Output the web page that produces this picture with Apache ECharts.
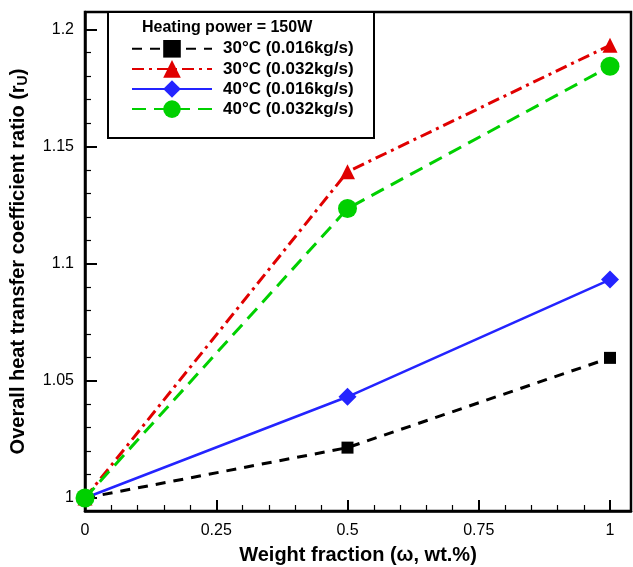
<!DOCTYPE html>
<html><head><meta charset="utf-8">
<script src="https://cdn.jsdelivr.net/npm/echarts@6/dist/echarts.min.js"></script>
<style>html,body{margin:0;padding:0;background:#fff}#c{width:633px;height:567px}</style>
</head><body><div id="c"></div>
<script>
const xValues = [0, 0.5, 1];
const s30_016 = [1.0, 1.0215, 1.0598];
const s30_032 = [1.0, 1.1392, 1.1932];
const s40_016 = [1.0, 1.0432, 1.0932];
const s40_032 = [1.0, 1.1235, 1.1842];
const seriesNames = ['30\u00B0C (0.016kg/s)', '30\u00B0C (0.032kg/s)', '40\u00B0C (0.016kg/s)', '40\u00B0C (0.032kg/s)'];
const xMajor = [0, 0.25, 0.5, 0.75, 1];
const xMajorLabels = ['0', '0.25', '0.5', '0.75', '1'];
const yMajor = [1, 1.05, 1.1, 1.15, 1.2];
const yMajorLabels = ['1', '1.05', '1.1', '1.15', '1.2'];
const xMinor = [0.05,0.1,0.15,0.2,0.3,0.35,0.4,0.45,0.55,0.6,0.65,0.7,0.8,0.85,0.9,0.95];
const yMinor = [1.01,1.02,1.03,1.04,1.06,1.07,1.08,1.09,1.11,1.12,1.13,1.14,1.16,1.17,1.18,1.19];
const legendTitle = 'Heating power = 150W';
const xTitle = 'Weight fraction (\u03C9, wt.%)';

const X_MIN = 0, X_MAX = 1.04, Y_MIN = 0.99446, Y_MAX = 1.20738;
const font = 'Liberation Sans, Arial, sans-serif';

function pairs(ys){ return xValues.map((x,i)=>[x, ys[i]]); }
const xLab = v => { const i = xMajor.findIndex(m => Math.abs(m - v) < 1e-9); return i >= 0 ? xMajorLabels[i] : ''; };
const yLab = v => { const i = yMajor.findIndex(m => Math.abs(m - v) < 1e-9); return i >= 0 ? yMajorLabels[i] : ''; };

const chart = echarts.init(document.getElementById('c'), null, {renderer: 'canvas'});
chart.setOption({
  animation: false,
  backgroundColor: '#fff',
  grid: {left: 85, right: 2, top: 12, bottom: 56, show: true, borderColor: '#000', borderWidth: 2.5,
         backgroundColor: 'transparent', outerBoundsMode: 'none', containLabel: false},
  xAxis: [
    {type: 'value', min: X_MIN, max: X_MAX, position: 'bottom',
     axisLine: {show: true, onZero: false, lineStyle: {color: '#000', width: 2.5}},
     axisTick: {show: true, inside: true, length: 11, customValues: xMajor, lineStyle: {color: '#000', width: 2}},
     axisLabel: {show: true, customValues: xMajor, formatter: xLab, color: '#000', fontSize: 16, fontFamily: font, margin: 12},
     splitLine: {show: false},
     name: xTitle, nameLocation: 'middle', nameGap: 34,
     nameTextStyle: {color: '#000', fontSize: 20, fontWeight: 'bold', fontFamily: font}},
    {type: 'value', min: X_MIN, max: X_MAX, position: 'bottom',
     axisLine: {show: false},
     axisTick: {show: true, inside: true, length: 6, customValues: xMinor, lineStyle: {color: '#000', width: 1.2}},
     axisLabel: {show: false}, splitLine: {show: false}}
  ],
  yAxis: [
    {type: 'value', min: Y_MIN, max: Y_MAX, position: 'left',
     axisLine: {show: true, onZero: false, lineStyle: {color: '#000', width: 2.5}},
     axisTick: {show: true, inside: true, length: 12, customValues: yMajor, lineStyle: {color: '#000', width: 2}},
     axisLabel: {show: true, customValues: yMajor, formatter: yLab, color: '#000', fontSize: 16, fontFamily: font, margin: 11},
     splitLine: {show: false},
     name: '{a|Overall heat transfer coefficient ratio (r}{s|U}{a|)}', nameLocation: 'middle', nameGap: 55, nameRotate: 90,
     nameTextStyle: {color: '#000', rich: {
       a: {fontSize: 20, fontWeight: 'bold', fontFamily: font, color: '#000', verticalAlign: 'middle'},
       s: {fontSize: 14, fontWeight: 'bold', fontFamily: font, color: '#000', verticalAlign: 'bottom', padding: [10, 0, 0, 0]}
     }}},
    {type: 'value', min: Y_MIN, max: Y_MAX, position: 'left',
     axisLine: {show: false},
     axisTick: {show: true, inside: true, length: 6, customValues: yMinor, lineStyle: {color: '#000', width: 1.2}},
     axisLabel: {show: false}, splitLine: {show: false}}
  ],
  legend: {
    orient: 'vertical', left: 126, top: 35, itemWidth: 80, itemHeight: 22, itemGap: 2.5,
    data: seriesNames,
    textStyle: {color: '#000', fontSize: 17, fontWeight: 'bold', fontFamily: font, padding: [0, 0, 0, 6]}
  },
  graphic: [
    {type: 'rect', left: 107, top: 11, shape: {width: 266, height: 126}, style: {fill: '#fff', stroke: '#000', lineWidth: 2}, z: 0},
    {type: 'text', left: 142, top: 20, style: {text: legendTitle, fill: '#000', font: 'bold 16px ' + font}, z: 1}
  ],
  series: [
    {name: seriesNames[0], type: 'line', data: pairs(s30_016), symbol: 'rect', symbolSize: 12,
     lineStyle: {color: '#000', width: 3, type: [10, 8]}, itemStyle: {color: '#000'}, z: 3},
    {name: seriesNames[1], type: 'line', data: pairs(s30_032), symbol: 'triangle', symbolSize: 15,
     lineStyle: {color: '#e00000', width: 3, type: [12, 5, 3, 5]}, itemStyle: {color: '#e00000'}, z: 4},
    {name: seriesNames[2], type: 'line', data: pairs(s40_016), symbol: 'diamond', symbolSize: 18,
     lineStyle: {color: '#2424ff', width: 2.5, type: 'solid'}, itemStyle: {color: '#2424ff'}, z: 5},
    {name: seriesNames[3], type: 'line', data: pairs(s40_032), symbol: 'circle', symbolSize: 19,
     lineStyle: {color: '#00d000', width: 3, type: [14, 8]}, itemStyle: {color: '#00d000'}, z: 6}
  ]
});
</script></body></html>
